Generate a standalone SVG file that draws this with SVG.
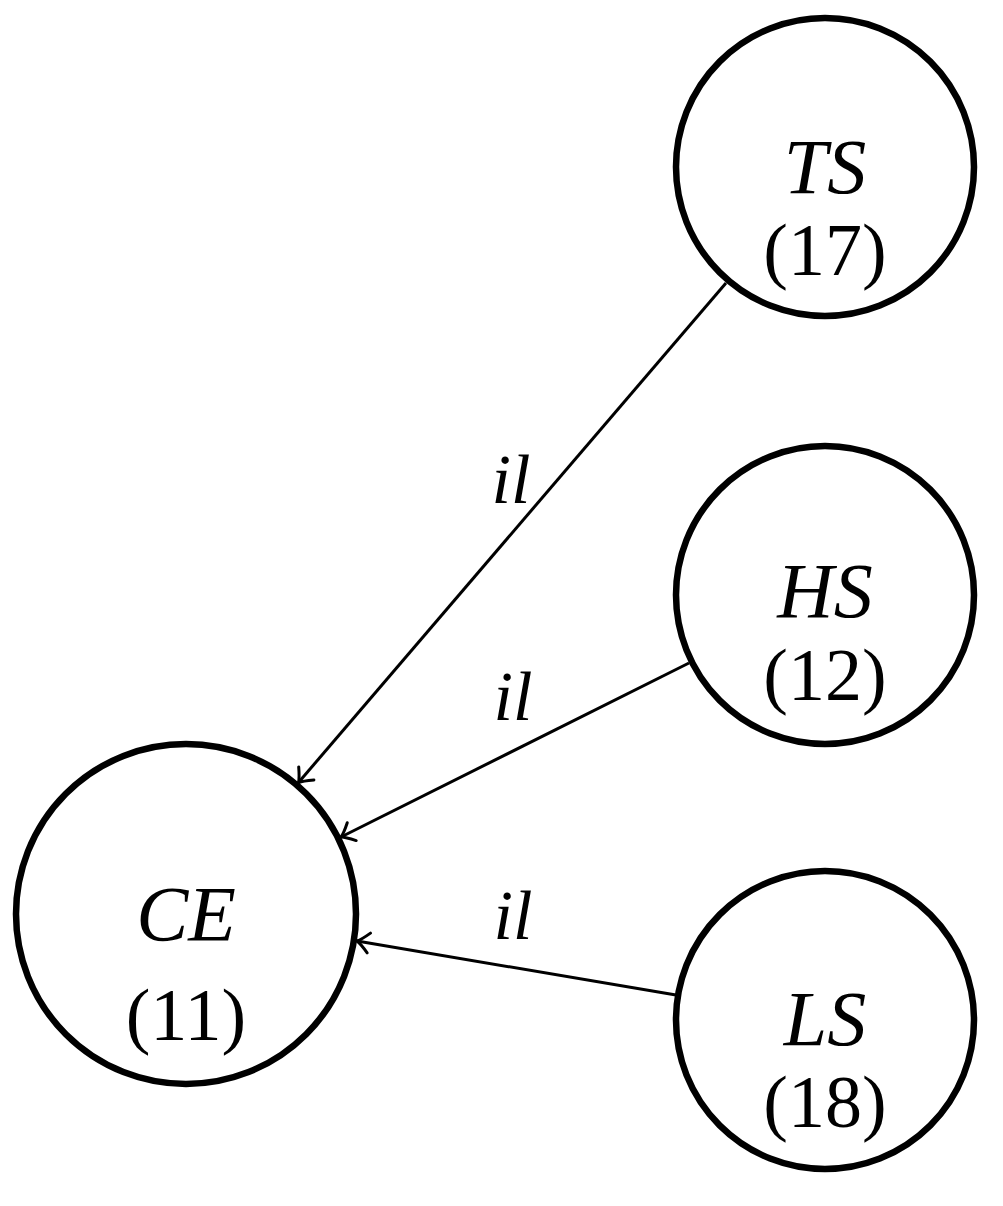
<svg xmlns="http://www.w3.org/2000/svg" width="1003" height="1206" viewBox="0 0 1003 1206">
<style>
.node{fill:#fff;stroke:#000;stroke-width:6.5}
.lbl{font-family:"Liberation Serif",serif;font-style:italic;font-size:78px;text-anchor:middle}
.num{font-family:"Liberation Serif",serif;font-size:74px;text-anchor:middle}
.edge{stroke:#000;stroke-width:3;fill:none}
.el{font-family:"Liberation Serif",serif;font-style:italic;font-size:70px;text-anchor:middle}
</style>
<defs>
<marker id="arr" markerUnits="userSpaceOnUse" markerWidth="30" markerHeight="30" refX="0" refY="0" viewBox="-15 -15 30 30" orient="auto" overflow="visible">
<path d="M-12,-10 Q-4,-2 0,0 Q-4,2 -12,10" stroke="#000" stroke-width="3" fill="none" stroke-linecap="round"/>
</marker>
</defs>
<rect width="1003" height="1206" fill="#fff"/>
<g id="connectors">
<line class="edge" x1="726" y1="283" x2="298.5" y2="782.5" marker-end="url(#arr)"/>
<line class="edge" x1="689" y1="663" x2="341" y2="837" marker-end="url(#arr)"/>
<line class="edge" x1="676" y1="995" x2="357" y2="941" marker-end="url(#arr)"/>
<text class="el" x="511" y="503">il</text>
<text class="el" x="513" y="720">il</text>
<text class="el" x="513" y="939">il</text>
</g>
<g id="TS">
<circle class="node" cx="825" cy="167" r="149"/>
<text class="lbl" x="825" y="193">TS</text>
<text class="num" x="825" y="275">(17)</text>
</g>
<g id="HS">
<circle class="node" cx="825" cy="595" r="149"/>
<text class="lbl" x="825" y="617">HS</text>
<text class="num" x="825" y="700">(12)</text>
</g>
<g id="LS">
<circle class="node" cx="825" cy="1020" r="149"/>
<text class="lbl" x="825" y="1045">LS</text>
<text class="num" x="825" y="1127">(18)</text>
</g>
<g id="CE">
<circle class="node" cx="186" cy="914" r="170"/>
<text class="lbl" x="186" y="940">CE</text>
<text class="num" x="186" y="1040">(11)</text>
</g>
</svg>
